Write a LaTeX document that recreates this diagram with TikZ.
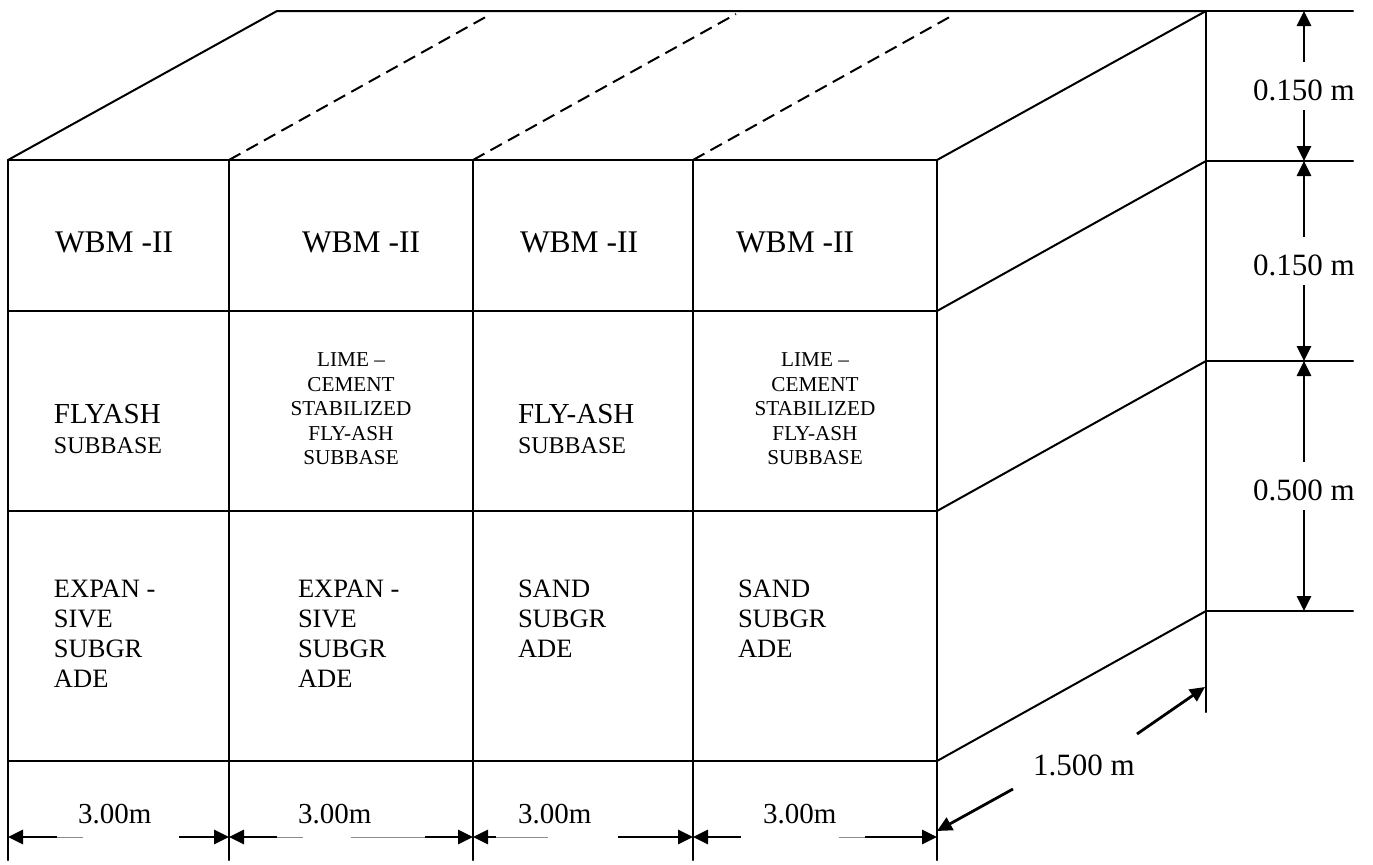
\documentclass[tikz,border=0pt]{standalone}
\usepackage{fontspec}
\setmainfont{Liberation Serif}
\usetikzlibrary{arrows.meta}
\begin{document}
\begin{tikzpicture}[x=0.5pt,y=-0.5pt,
  edge/.style={line width=1pt,line cap=round},
  dashline/.style={line width=1pt,dash pattern=on 6.5pt off 3.5pt},
  dimarrow/.style={line width=1.4pt,-{Triangle[length=7.5pt,width=7pt]}},
  faint/.style={line width=0.5pt,black!45},
  lbl/.style={inner sep=0pt,outer sep=0pt},
  big/.style={lbl,font=\fontsize{15.75}{18}\selectfont},
  mid/.style={lbl,font=\fontsize{14.5}{17}\selectfont},
  sub/.style={lbl,font=\fontsize{12}{14}\selectfont},
  tiny/.style={lbl,align=center,font=\fontsize{10.6}{12.25}\selectfont},
  soil/.style={lbl,align=left,font=\fontsize{13.25}{15.15}\selectfont},
  dimtxt/.style={lbl,font=\fontsize{15.5}{18}\selectfont},
  widtxt/.style={lbl,font=\fontsize{14.5}{17}\selectfont}
]
\useasboundingbox (0,0) rectangle (1373,864);

% ---------- coordinates ----------
\foreach \n/\x in {0/8,1/229,2/473,3/693,4/937}{
  \coordinate (c\n t) at (\x,160);
  \coordinate (c\n b) at (\x,860);
}
\foreach \n/\y in {0/160,1/311,2/511,3/761}{
  \coordinate (L\n) at (8,\y);
  \coordinate (R\n) at (937,\y);
}
\foreach \n/\y in {0/11,1/161,2/361,3/611}{
  \coordinate (B\n) at (1206,\y);
  \coordinate (E\n) at (1353,\y);
}
\coordinate (Bend) at (1206,712);
\coordinate (TL) at (277,11);
\coordinate (D1) at (491,14);
\coordinate (D2) at (736,14);
\coordinate (D3) at (955,14);

% ---------- box edges ----------
\foreach \n in {0,...,4}{ \draw[edge] (c\n t) -- (c\n b); }
\foreach \n in {0,...,3}{
  \draw[edge] (L\n) -- (R\n);
  \draw[edge] (R\n) -- (B\n);
  \draw[edge] (B\n) -- (E\n);
}
\draw[edge] (L0) -- (TL) -- (B0);
\draw[edge] (B0) -- (Bend);
\draw[dashline] (c1t) -- (D1);
\draw[dashline] (c2t) -- (D2);
\draw[dashline] (c3t) -- (D3);

% ---------- layer texts ----------
\node[big,anchor=base west] (w1) at (55,252) {WBM -II};
\node[big,anchor=base west] (w2) at (302,252) {WBM -II};
\node[big,anchor=base west] (w3) at (520,252) {WBM -II};
\node[big,anchor=base west] (w4) at (736,252) {WBM -II};

\node[mid,anchor=base west] (f1) at (54,423) {FLYASH};
\node[sub,anchor=base west] (s1) at (54,453) {SUBBASE};
\node[mid,anchor=base west] (f3) at (518,423) {FLY-ASH};
\node[sub,anchor=base west] (s3) at (518,453) {SUBBASE};
\node[tiny,anchor=north] (lc2) at (351,353) {LIME –\\CEMENT\\STABILIZED\\FLY-ASH\\SUBBASE};
\node[tiny,anchor=north] (lc4) at (815,353) {LIME –\\CEMENT\\STABILIZED\\FLY-ASH\\SUBBASE};

\node[soil,anchor=north west] (g1) at (54,579.5) {EXPAN -\\SIVE\\SUBGR\\ADE};
\node[soil,anchor=north west] (g2) at (298,579.5) {EXPAN -\\SIVE\\SUBGR\\ADE};
\node[soil,anchor=north west] (g3) at (518,579.5) {SAND\\SUBGR\\ADE};
\node[soil,anchor=north west] (g4) at (738,579.5) {SAND\\SUBGR\\ADE};

% ---------- vertical dimensions ----------
\node[dimtxt,anchor=base] (h1) at (1304,100) {0.150 m};
\node[dimtxt,anchor=base] (h2) at (1304,275) {0.150 m};
\node[dimtxt,anchor=base] (h3) at (1304,500) {0.500 m};
\coordinate (h1a) at (1304,62);  \coordinate (h1b) at (1304,110);
\coordinate (h2a) at (1304,237); \coordinate (h2b) at (1304,285);
\coordinate (h3a) at (1304,462); \coordinate (h3b) at (1304,510);
\coordinate (V0) at (1304,11);  \coordinate (V1) at (1304,161);
\coordinate (V2) at (1304,361); \coordinate (V3) at (1304,611);
\draw[dimarrow] (h1a) -- (V0);
\draw[dimarrow] (h1b) -- (V1);
\draw[dimarrow] (h2a) -- (V1);
\draw[dimarrow] (h2b) -- (V2);
\draw[dimarrow] (h3a) -- (V2);
\draw[dimarrow] (h3b) -- (V3);

% ---------- depth dimension ----------
\node[dimtxt,anchor=base] (dep) at (1084,775) {1.500 m};
\coordinate (dpa) at (1137,734); \coordinate (dpA) at (1205,687);
\coordinate (dpb) at (1013,789); \coordinate (dpB) at (937,831);
\draw[dimarrow] (dpa) -- (dpA);
\draw[dimarrow] (dpb) -- (dpB);

% ---------- width dimensions ----------
\node[widtxt,anchor=base west] (x1) at (78,823) {3.00m};
\node[widtxt,anchor=base west] (x2) at (298,823) {3.00m};
\node[widtxt,anchor=base west] (x3) at (518,823) {3.00m};
\node[widtxt,anchor=base west] (x4) at (763,823) {3.00m};
\foreach \n/\x in {0/8,1/229,2/473,3/693,4/937}{ \coordinate (A\n) at (\x,837); }
\coordinate (a1l) at (57,837);  \coordinate (g1l) at (83,837);  \coordinate (a1r) at (179,837);
\coordinate (a2l) at (277,837); \coordinate (g2l) at (303,837);
\coordinate (g2r) at (351,837); \coordinate (a2r) at (425,837);
\coordinate (a3l) at (496,837); \coordinate (g3l) at (548,837); \coordinate (a3r) at (618,837);
\coordinate (a4l) at (741,837); \coordinate (g4r) at (839,837); \coordinate (a4r) at (865,837);
\draw[faint] (a1l) -- (g1l);
\draw[faint] (a2l) -- (g2l);
\draw[faint] (g2r) -- (a2r);
\draw[faint] (a3l) -- (g3l);
\draw[faint] (g4r) -- (a4r);
\draw[dimarrow] (a1l) -- (A0);
\draw[dimarrow] (a1r) -- (A1);
\draw[dimarrow] (a2l) -- (A1);
\draw[dimarrow] (a2r) -- (A2);
\draw[dimarrow] (a3l) -- (A2);
\draw[dimarrow] (a3r) -- (A3);
\draw[dimarrow] (a4l) -- (A3);
\draw[dimarrow] (a4r) -- (A4);
\end{tikzpicture}
\end{document}
